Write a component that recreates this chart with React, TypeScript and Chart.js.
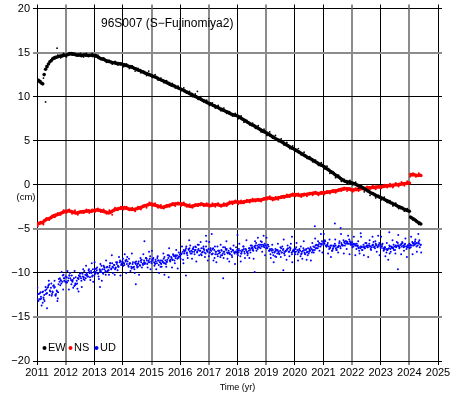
import React, { useEffect, useRef } from 'react';
import { Chart, registerables } from 'chart.js';

Chart.register(...registerables);

const TITLE = '96S007 (S\u2212Fujinomiya2)';
const X_TITLE = 'Time (yr)';
const Y_UNIT = '(cm)';
const X_MIN = 2011;
const X_MAX = 2025;
const Y_MIN = -20;
const Y_MAX = 20;
const SERIES_NAMES = ['EW', 'NS', 'UD'];

// main sampling: one value every 0.05 yr starting 2011.00
const T_START = 2011.0;
const T_STEP = 0.05;

const EW = [
  11.9, 11.85, 11.7, 11.55, 11.45, 12.5, 13.1, 13.4, 13.7, 13.95, 14.1, 14.3, 14.4, 14.45, 14.5, 14.55, 14.6, 14.6, 14.65, 14.7,
  14.7, 14.75, 14.8, 14.85, 14.9, 14.85, 14.8, 14.75, 14.7, 14.75, 14.7, 14.65, 14.7, 14.75, 14.7, 14.7, 14.65, 14.7, 14.7, 14.65,
  14.7, 14.65, 14.55, 14.45, 14.35, 14.3, 14.25, 14.2, 14.1, 14.05, 14.0, 13.95, 13.9, 13.85, 13.85, 13.8, 13.75, 13.75, 13.7, 13.7,
  13.65, 13.6, 13.55, 13.5, 13.45, 13.4, 13.35, 13.3, 13.2, 13.15, 13.05, 13.0, 12.95, 12.85, 12.8, 12.7, 12.65, 12.6, 12.5, 12.45,
  12.4, 12.3, 12.25, 12.2, 12.1, 12.0, 11.95, 11.85, 11.8, 11.7, 11.65, 11.55, 11.5, 11.4, 11.3, 11.25, 11.2, 11.1, 11.05, 10.95,
  10.9, 10.8, 10.75, 10.65, 10.55, 10.5, 10.4, 10.3, 10.25, 10.15, 10.05, 10.0, 9.9, 9.8, 9.75, 9.65, 9.55, 9.5, 9.4, 9.3,
  9.25, 9.2, 9.1, 9.0, 8.95, 8.85, 8.8, 8.7, 8.6, 8.55, 8.45, 8.4, 8.3, 8.25, 8.15, 8.05, 8.0, 7.95, 7.9, 7.85,
  7.8, 7.7, 7.6, 7.5, 7.4, 7.3, 7.2, 7.1, 7.0, 6.9, 6.8, 6.75, 6.65, 6.55, 6.45, 6.35, 6.25, 6.15, 6.05, 6.0,
  5.9, 5.8, 5.7, 5.6, 5.5, 5.4, 5.3, 5.2, 5.1, 5.05, 4.95, 4.85, 4.75, 4.65, 4.55, 4.45, 4.35, 4.25, 4.15, 4.1,
  4.0, 3.9, 3.8, 3.7, 3.6, 3.5, 3.4, 3.3, 3.2, 3.1, 3.0, 2.95, 2.85, 2.75, 2.65, 2.55, 2.45, 2.35, 2.25, 2.2,
  2.1, 2.0, 1.85, 1.75, 1.65, 1.5, 1.4, 1.3, 1.15, 1.05, 0.95, 0.85, 0.7, 0.6, 0.5, 0.4, 0.35, 0.3, 0.3, 0.25,
  0.2, 0.15, 0.1, 0.0, -0.05, -0.15, -0.2, -0.3, -0.4, -0.5, -0.6, -0.7, -0.8, -0.9, -1.0, -1.05, -1.15, -1.25, -1.3, -1.4,
  -1.45, -1.55, -1.6, -1.7, -1.8, -1.85, -1.95, -2.05, -2.1, -2.2, -2.25, -2.35, -2.45, -2.5, -2.6, -2.65, -2.75, -2.8, -2.9, -2.95,
  -3.0, -3.7, -3.8, -3.9, -4.0, -4.15, -4.25, -4.35, -4.45,
];

const NS = [
  -4.5, -4.4, -4.35, -4.3, -4.3, -4.1, -4.0, -3.9, -3.85, -3.8, -3.7, -3.6, -3.5, -3.45, -3.4, -3.35, -3.3, -3.2, -3.15, -3.05,
  -3.0, -3.0, -2.95, -3.0, -3.05, -3.1, -3.15, -3.2, -3.2, -3.15, -3.1, -3.1, -3.05, -3.05, -3.0, -3.0, -2.95, -3.0, -3.0, -2.95,
  -2.9, -2.9, -2.85, -2.9, -2.9, -2.95, -3.0, -3.05, -3.1, -3.15, -3.2, -3.15, -3.05, -2.95, -2.85, -2.8, -2.75, -2.7, -2.7, -2.65,
  -2.65, -2.6, -2.65, -2.7, -2.75, -2.75, -2.8, -2.8, -2.8, -2.75, -2.7, -2.65, -2.6, -2.55, -2.45, -2.4, -2.35, -2.3, -2.25, -2.2,
  -2.2, -2.25, -2.3, -2.35, -2.4, -2.45, -2.5, -2.55, -2.55, -2.5, -2.45, -2.4, -2.35, -2.3, -2.25, -2.2, -2.2, -2.15, -2.15, -2.15,
  -2.15, -2.2, -2.2, -2.25, -2.3, -2.35, -2.4, -2.45, -2.45, -2.4, -2.35, -2.3, -2.3, -2.25, -2.25, -2.2, -2.25, -2.3, -2.3, -2.3,
  -2.3, -2.35, -2.35, -2.3, -2.3, -2.25, -2.25, -2.3, -2.35, -2.35, -2.3, -2.3, -2.25, -2.2, -2.1, -2.05, -2.0, -2.0, -1.95, -1.95,
  -1.95, -1.95, -2.0, -2.0, -1.95, -1.9, -1.9, -1.85, -1.85, -1.8, -1.8, -1.8, -1.75, -1.75, -1.7, -1.75, -1.75, -1.7, -1.65, -1.6,
  -1.55, -1.5, -1.5, -1.55, -1.55, -1.6, -1.6, -1.55, -1.5, -1.45, -1.45, -1.4, -1.35, -1.35, -1.3, -1.3, -1.25, -1.2, -1.15, -1.15,
  -1.1, -1.1, -1.15, -1.2, -1.2, -1.15, -1.15, -1.1, -1.1, -1.05, -1.05, -1.0, -1.0, -0.95, -0.95, -0.95, -1.0, -1.0, -0.95, -0.95,
  -0.9, -0.9, -0.85, -0.85, -0.8, -0.8, -0.75, -0.75, -0.7, -0.7, -0.65, -0.6, -0.55, -0.5, -0.5, -0.45, -0.45, -0.45, -0.5, -0.55,
  -0.6, -0.6, -0.55, -0.55, -0.5, -0.5, -0.45, -0.45, -0.4, -0.4, -0.4, -0.35, -0.35, -0.35, -0.3, -0.3, -0.3, -0.25, -0.25, -0.25,
  -0.25, -0.2, -0.2, -0.15, -0.15, -0.1, -0.1, -0.1, -0.05, -0.05, 0.0, 0.0, 0.0, 0.05, 0.05, 0.1, 0.1, 0.15, 0.15, 0.2,
  0.2, 1.15, 1.1, 1.15, 1.1, 1.05, 1.05, 1.1, 1.05,
];

const UD = [
  -12.6, -13.2, -12.3, -12.9, -13.4, -12.5, -11.6, -12.3, -11.4, -12.0, -11.2, -12.2, -11.7, -12.6, -12.1, -11.3, -10.6, -11.2, -10.3, -10.9,
  -10.4, -11.1, -10.6, -10.0, -11.3, -10.8, -11.5, -10.5, -11.2, -10.7, -10.1, -10.9, -10.4, -9.8, -10.6, -10.2, -9.7, -10.5, -10.0, -9.6,
  -10.3, -9.9, -9.4, -10.4, -9.8, -9.2, -10.0, -9.6, -10.2, -9.3, -9.7, -8.9, -9.5, -10.0, -9.1, -9.4, -8.8, -9.3, -8.6, -9.0,
  -8.4, -9.1, -8.7, -8.2, -9.3, -8.9, -9.5, -8.8, -9.6, -9.0, -9.4, -8.7, -9.2, -8.5, -9.1, -8.8, -8.3, -9.0, -8.6, -8.1,
  -8.9, -8.4, -9.2, -8.7, -8.3, -9.1, -8.6, -9.3, -8.8, -8.2, -9.0, -8.5, -8.0, -8.7, -8.3, -7.9, -8.6, -8.1, -8.4, -7.7,
  -8.2, -7.8, -8.5, -7.6, -7.2, -8.0, -7.4, -6.9, -7.8, -7.3, -7.9, -7.1, -7.6, -6.8, -7.5, -8.0, -7.2, -7.7, -7.0, -7.6,
  -8.1, -7.4, -7.9, -7.2, -8.3, -7.6, -7.0, -7.8, -8.2, -7.5, -7.1, -7.9, -7.4, -8.4, -7.7, -7.2, -8.0, -7.5, -7.8, -7.1,
  -7.9, -7.3, -8.1, -7.6, -7.0, -7.8, -7.4, -8.0, -7.2, -7.7, -6.9, -7.5, -7.1, -6.6, -7.3, -6.8, -7.2, -6.5, -7.0, -6.7,
  -7.2, -6.8, -7.5, -7.9, -7.3, -8.0, -7.6, -8.2, -7.4, -7.8, -7.1, -7.7, -7.3, -8.0, -7.5, -6.9, -7.6, -7.2, -7.9, -7.4,
  -7.7, -7.1, -7.9, -7.4, -8.1, -7.6, -7.2, -7.8, -7.3, -8.0, -7.6, -7.1, -7.7, -7.0, -7.4, -6.8, -7.2, -6.6, -7.0, -6.4,
  -6.8, -6.3, -7.0, -6.6, -7.3, -6.9, -7.5, -7.0, -6.7, -7.4, -7.1, -6.6, -7.2, -6.8, -6.3, -6.9, -6.4, -6.7, -6.2, -6.8,
  -6.5, -7.0, -6.7, -7.3, -6.9, -7.5, -7.0, -7.4, -6.8, -7.2, -6.6, -7.1, -6.7, -7.3, -6.9, -6.5, -7.2, -6.8, -7.0, -6.6,
  -7.2, -6.8, -7.5, -7.1, -7.7, -7.3, -6.9, -7.6, -7.2, -6.8, -7.4, -7.0, -6.6, -7.2, -6.8, -6.5, -7.1, -6.7, -7.3, -6.9,
  -6.7, -7.1, -6.5, -6.9, -6.4, -7.0, -6.6, -6.3, -6.8,
];

// more UD readings, one every 0.1 yr starting 2011.025
const UD2_START = 2011.025;
const UD2_STEP = 0.1;
const UD2 = [
  -13.0, -12.2, -12.8, -11.9, -11.3, -12.4, -11.6, -12.9, -10.8, -10.2,
  -11.0, -10.3, -10.9, -11.4, -10.6, -10.0, -10.7, -10.3, -9.9, -10.4,
  -9.6, -10.1, -9.7, -9.2, -9.9, -9.4, -8.9, -9.6, -9.2, -8.7,
  -8.9, -8.5, -9.0, -9.4, -8.8, -9.3, -8.6, -8.9, -8.4, -8.8,
  -8.5, -9.0, -8.6, -8.9, -8.4, -8.8, -8.1, -8.5, -8.0, -8.3,
  -7.9, -7.4, -7.8, -7.2, -7.6, -7.0, -7.4, -7.9, -7.3, -7.4,
  -7.7, -7.3, -7.9, -7.5, -8.0, -7.6, -7.3, -7.8, -7.4, -7.6,
  -7.5, -7.8, -7.3, -7.6, -7.2, -7.4, -6.9, -7.1, -6.8, -6.9,
  -7.1, -7.4, -7.7, -7.3, -7.6, -7.2, -7.8, -7.4, -7.1, -7.6,
  -7.3, -7.6, -7.9, -7.4, -7.7, -7.3, -7.5, -6.9, -6.8, -6.7,
  -6.5, -6.9, -7.2, -7.3, -6.9, -7.0, -6.6, -6.5, -6.6, -6.4,
  -6.8, -6.9, -7.2, -7.1, -7.0, -6.9, -7.0, -6.8, -6.7, -6.9,
  -7.0, -7.3, -7.4, -7.0, -7.1, -6.9, -6.9, -6.7, -7.0, -7.1,
  -6.9, -6.6, -6.7, -6.5,
];

// wider-spread UD readings, every 0.05 yr starting 2011.0125
const UD3_START = 2011.0125;
const UD3 = [
  -11.7, -12.4, -13.0, -13.7, -12.1, -13.2, -12.4, -11.7, -10.9, -12.1, -12.6, -11.5, -10.9, -12.4, -13.2, -10.7, -11.4, -9.9, -11.9, -10.6,
  -11.1, -9.8, -11.9, -10.6, -10.3, -11.7, -9.8, -11.3, -11.8, -10.3, -10.4, -11.6, -9.6, -10.8, -9.2, -10.4, -9.6, -10.8, -8.9, -11.0,
  -8.8, -9.5, -10.0, -10.7, -9.0, -10.9, -10.1, -9.4, -8.6, -9.8, -10.2, -8.9, -8.0, -9.4, -10.2, -8.8, -9.7, -8.2, -10.3, -8.9,
  -9.2, -7.9, -10.0, -8.7, -8.4, -9.8, -7.8, -9.4, -10.0, -8.7, -9.0, -10.2, -8.3, -9.4, -7.9, -9.0, -8.3, -9.4, -7.6, -9.6,
  -7.5, -8.3, -8.9, -9.6, -8.1, -10.0, -9.3, -8.6, -7.8, -8.9, -9.3, -8.0, -7.2, -8.5, -9.4, -8.0, -8.9, -7.4, -9.5, -8.1,
  -8.4, -7.0, -8.9, -7.5, -7.0, -8.3, -6.3, -7.8, -8.4, -7.1, -7.4, -8.7, -6.8, -8.0, -6.5, -7.7, -7.0, -8.2, -6.4, -8.6,
  -6.5, -7.2, -7.9, -8.6, -7.0, -8.8, -8.1, -7.5, -6.8, -8.0, -8.3, -7.1, -6.4, -7.8, -8.7, -7.3, -8.2, -6.9, -9.0, -7.7,
  -8.0, -6.7, -8.7, -7.4, -7.0, -8.3, -6.3, -7.8, -8.3, -6.9, -7.1, -8.4, -6.4, -7.5, -6.0, -7.1, -6.4, -7.6, -5.8, -8.0,
  -6.0, -6.8, -7.5, -8.3, -6.8, -8.8, -8.1, -7.4, -6.7, -7.9, -8.2, -7.0, -6.2, -7.6, -8.5, -7.2, -8.1, -6.7, -8.8, -7.5,
  -7.9, -6.6, -8.6, -7.3, -7.0, -8.4, -6.4, -7.9, -8.5, -7.2, -7.4, -8.6, -6.6, -7.7, -6.1, -7.2, -6.4, -7.5, -5.6, -7.7,
  -5.6, -6.4, -7.0, -7.8, -6.2, -8.2, -7.5, -6.9, -6.2, -7.4, -7.7, -6.4, -5.6, -6.9, -7.8, -6.4, -7.3, -5.8, -7.9, -6.6,
  -7.1, -5.9, -8.0, -6.7, -6.4, -7.8, -5.9, -7.4, -8.0, -6.6, -6.9, -8.2, -6.3, -7.4, -5.9, -7.1, -6.4, -7.6, -5.8, -8.0,
  -5.9, -6.7, -7.4, -8.1, -6.6, -8.5, -7.8, -7.0, -6.3, -7.4, -7.8, -6.5, -5.7, -7.1, -7.9, -6.6, -7.5, -6.1, -8.2, -6.9,
  -7.2, -5.9, -7.9, -6.6, -6.2, -7.6, -5.6, -7.1, -7.7,
];

// UD readings near the middle of the band, every 0.05 yr starting 2011.0375
const UD4_START = 2011.0375;
const UD4 = [
  -12.4, -13.0, -12.7, -12.2, -13.0, -12.0, -12.3, -11.6, -12.5, -11.7, -12.1, -11.4, -12.5, -12.0, -12.2, -11.0, -10.9, -11.0, -10.6, -11.0,
  -10.5, -10.9, -10.3, -10.8, -11.0, -10.6, -11.2, -10.9, -10.6, -10.4, -10.6, -10.1, -10.5, -10.2, -10.0, -10.4, -10.0, -9.8, -10.3, -9.9,
  -10.1, -9.7, -10.0, -9.6, -9.9, -9.6, -9.3, -9.8, -9.4, -9.7, -9.2, -9.6, -9.3, -9.1, -9.5, -9.0, -9.3, -8.8, -9.1, -8.7,
  -8.9, -8.6, -9.0, -9.2, -8.9, -9.3, -9.0, -9.3, -8.9, -9.2, -8.9, -9.1, -8.8, -9.0, -8.6, -8.9, -8.6, -8.8, -8.4, -8.7,
  -8.6, -8.8, -8.5, -8.9, -8.6, -8.8, -9.0, -8.7, -8.9, -8.6, -8.7, -8.3, -8.6, -8.2, -8.5, -8.1, -8.3, -8.0, -8.2, -7.9,
  -7.9, -7.6, -7.8, -7.4, -7.7, -7.3, -7.6, -7.5, -7.3, -7.6, -7.4, -7.7, -7.3, -7.5, -7.2, -7.6, -7.4, -7.8, -7.5, -7.3,
  -7.7, -7.5, -7.8, -7.4, -7.6, -7.9, -7.5, -7.7, -7.4, -7.8, -7.6, -7.3, -7.7, -7.5, -7.9, -7.6, -7.4, -7.7, -7.6, -7.4,
  -7.7, -7.5, -7.8, -7.4, -7.6, -7.3, -7.7, -7.5, -7.4, -7.2, -7.3, -7.0, -7.2, -6.9, -7.1, -6.8, -7.0, -6.8, -7.1, -6.9,
  -7.2, -7.0, -7.3, -7.5, -7.4, -7.7, -7.5, -7.8, -7.6, -7.5, -7.7, -7.4, -7.6, -7.5, -7.3, -7.6, -7.4, -7.7, -7.5, -7.3,
  -7.6, -7.4, -7.7, -7.5, -7.8, -7.5, -7.7, -7.4, -7.6, -7.8, -7.5, -7.3, -7.4, -7.1, -7.2, -6.9, -7.0, -6.7, -6.8, -6.6,
  -6.7, -6.9, -6.8, -7.0, -7.1, -6.9, -7.2, -7.0, -7.2, -7.1, -6.9, -7.0, -6.8, -6.9, -6.6, -6.7, -6.5, -6.7, -6.6, -6.8,
  -6.7, -6.8, -6.9, -7.0, -7.1, -7.2, -7.0, -7.1, -7.2, -7.0, -7.1, -6.9, -7.0, -7.1, -6.8, -7.0, -6.9, -7.1, -6.8, -7.0,
  -7.0, -7.2, -7.1, -7.3, -7.4, -7.2, -7.3, -7.1, -7.2, -7.0, -7.1, -6.9, -7.0, -6.8, -7.0, -6.9, -6.8, -7.0, -6.9, -7.1,
  -6.8, -6.9, -6.7, -6.8, -6.6, -6.9, -6.7, -6.8,
];

// scatter around the EW and NS bands, every 0.1 yr starting 2011.025
const FUZZ_START = 2011.025;
const FUZZ_STEP = 0.1;
const EW2 = [
  11.7, 11.8, 12.1, 13.5, 13.7, 14.3, 14.3, 14.7, 14.4, 14.9,
  14.5, 15.0, 14.7, 14.9, 14.6, 14.9, 14.5, 14.9, 14.6, 14.9,
  14.5, 14.7, 14.2, 14.4, 13.9, 14.1, 13.7, 14.0, 13.6, 13.8,
  13.4, 13.7, 13.2, 13.5, 12.9, 13.2, 12.7, 12.9, 12.4, 12.6,
  12.2, 12.5, 11.9, 12.1, 11.6, 11.8, 11.3, 11.5, 11.0, 11.2,
  10.7, 11.0, 10.4, 10.6, 10.0, 10.3, 9.7, 10.0, 9.4, 9.6,
  9.0, 9.3, 8.7, 9.0, 8.4, 8.7, 8.1, 8.3, 7.8, 8.1,
  7.5, 7.8, 7.1, 7.3, 6.8, 7.0, 6.4, 6.7, 6.0, 6.3,
  5.6, 6.0, 5.3, 5.6, 4.9, 5.2, 4.5, 4.8, 4.1, 4.4,
  3.8, 4.1, 3.4, 3.7, 3.0, 3.2, 2.6, 2.8, 2.2, 2.5,
  1.8, 2.1, 1.3, 1.5, 0.8, 1.1, 0.4, 0.6, 0.2, 0.5,
  0.0, 0.3, -0.4, -0.2, -0.8, -0.6, -1.2, -0.9, -1.5, -1.2,
  -1.7, -1.4, -2.0, -1.8, -2.4, -2.1, -2.7, -2.5, -3.0, -2.7,
  -3.6, -4.0, -4.0, -4.5,
];
const NS2 = [
  -4.7, -4.2, -4.5, -3.8, -4.0, -3.5, -3.7, -3.2, -3.4, -2.9,
  -3.2, -2.8, -3.3, -2.9, -3.4, -3.0, -3.2, -2.8, -3.2, -2.8,
  -3.1, -2.7, -3.1, -2.8, -3.3, -2.9, -3.4, -2.6, -2.9, -2.5,
  -2.8, -2.5, -2.9, -2.6, -3.0, -2.5, -2.8, -2.4, -2.6, -2.0,
  -2.4, -2.1, -2.6, -2.3, -2.7, -2.3, -2.5, -2.1, -2.4, -2.0,
  -2.4, -2.0, -2.5, -2.2, -2.6, -2.2, -2.4, -2.1, -2.4, -2.1,
  -2.5, -2.1, -2.5, -2.1, -2.5, -2.1, -2.4, -1.9, -2.2, -1.8,
  -2.2, -1.8, -2.1, -1.7, -2.0, -1.6, -1.9, -1.6, -1.9, -1.5,
  -1.7, -1.3, -1.8, -1.4, -1.7, -1.3, -1.5, -1.1, -1.4, -1.0,
  -1.3, -1.0, -1.4, -1.0, -1.3, -0.9, -1.2, -0.8, -1.2, -0.8,
  -1.1, -0.7, -1.0, -0.6, -0.9, -0.5, -0.7, -0.3, -0.7, -0.4,
  -0.8, -0.4, -0.7, -0.3, -0.6, -0.2, -0.5, -0.1, -0.5, -0.1,
  -0.4, 0.0, -0.3, 0.1, -0.3, 0.2, -0.2, 0.3, -0.1, 0.4,
  0.9, 1.3, 0.9, 1.3,
];

// isolated readings
const UD_OUT_T = [2011.35, 2012.45, 2013.2, 2014.45, 2014.75, 2015.45, 2015.6, 2016.2, 2016.9, 2017.1, 2017.5, 2018.0, 2018.6, 2019.6, 2019.9, 2020.7, 2021.4, 2021.6, 2022.3, 2023.3, 2023.6];
const UD_OUT_V = [-14.0, -12.1, -11.6, -11.3, -6.4, -10.2, -10.5, -10.3, -5.8, -5.6, -10.6, -5.7, -9.9, -9.7, -5.9, -4.7, -4.4, -4.9, -5.5, -5.4, -9.6];
const EW_OUT_T = [2011.3, 2011.7, 2014.9, 2016.6];
const EW_OUT_V = [9.4, 15.5, 12.9, 10.6];

// grid lines that appear as grey, wider lines in the reference
const GRAY_X = [2012, 2015, 2017, 2019, 2022, 2024];
const GRAY_Y = [15, -5, -15];

const FONT = "'Liberation Sans', Arial, Helvetica, sans-serif";
const COLORS = ['#000000', '#ff0000', '#0000ff'];

const regular = (start: number, step: number, vals: number[]) =>
  vals.map((v, i) => ({ x: start + i * step, y: v }));
const paired = (ts: number[], vs: number[]) => ts.map((t, i) => ({ x: t, y: vs[i] }));

const fmtMinus = (v: number) => (v < 0 ? '\u2212' + Math.abs(v) : String(v));

const pts = (label: string, data: any[], color: string, r: number, order: number) => ({
  label,
  data,
  backgroundColor: color,
  pointBackgroundColor: color,
  pointRadius: r,
  pointBorderWidth: 0,
  order,
});

export default function App() {
  const ref = useRef<HTMLCanvasElement | null>(null);

  useEffect(() => {
    if (!ref.current) return;
    document.body.style.margin = '0';

    const gridColorX = (v: number) => (GRAY_X.includes(v) ? '#8c8c8c' : '#000000');
    const gridWidthX = (v: number) => (GRAY_X.includes(v) ? 2 : 1);
    const gridColorY = (v: number) => (GRAY_Y.includes(v) ? '#8c8c8c' : '#000000');
    const gridWidthY = (v: number) => (GRAY_Y.includes(v) ? 2 : 1);

    const decor = {
      id: 'decor',
      afterDraw(chart: any) {
        const ctx = chart.ctx;
        const a = chart.chartArea;
        const xs = chart.scales.x;
        const ys = chart.scales.y;
        ctx.save();
        xs.ticks.forEach((t: any) => {
          const p = xs.getPixelForValue(t.value);
          const w = gridWidthX(t.value);
          const px = w === 1 ? Math.round(p - 0.5) + 0.5 : Math.round(p);
          ctx.strokeStyle = gridColorX(t.value);
          ctx.lineWidth = w;
          ctx.beginPath();
          ctx.moveTo(px, a.top - 4);
          ctx.lineTo(px, a.top);
          ctx.stroke();
        });
        ys.ticks.forEach((t: any) => {
          const p = ys.getPixelForValue(t.value);
          const w = gridWidthY(t.value);
          const py = w === 1 ? Math.round(p - 0.5) + 0.5 : Math.round(p);
          ctx.strokeStyle = gridColorY(t.value);
          ctx.lineWidth = w;
          ctx.beginPath();
          ctx.moveTo(a.right, py);
          ctx.lineTo(a.right + 4, py);
          ctx.stroke();
        });
        ctx.fillStyle = '#000';
        ctx.font = `12px ${FONT}`;
        ctx.textAlign = 'left';
        ctx.textBaseline = 'middle';
        ctx.fillText(TITLE, 101, 24);
        ctx.font = `9.5px ${FONT}`;
        ctx.textAlign = 'center';
        ctx.fillText(Y_UNIT, 26, ys.getPixelForValue(0) + 12.5);
        ctx.font = `9px ${FONT}`;
        ctx.fillText(X_TITLE, (a.left + a.right) / 2, 388);
        ctx.font = `11px ${FONT}`;
        ctx.textAlign = 'left';
        const ly = a.bottom - 13;
        const lx = [44.5, 70.5, 96.5];
        SERIES_NAMES.forEach((name, i) => {
          ctx.fillStyle = COLORS[i];
          ctx.beginPath();
          ctx.arc(lx[i], ly, 2, 0, Math.PI * 2);
          ctx.fill();
          ctx.fillStyle = '#000';
          ctx.fillText(name, lx[i] + 3.5, ly);
        });
        ctx.restore();
      },
    };

    const chart = new Chart(ref.current, {
      type: 'scatter',
      data: {
        datasets: [
          pts('EW', regular(T_START, T_STEP, EW), COLORS[0], 1.8, 0),
          pts('EW scatter', [...regular(FUZZ_START, FUZZ_STEP, EW2), ...paired(EW_OUT_T, EW_OUT_V)], COLORS[0], 0.9, 1),
          pts('NS', regular(T_START, T_STEP, NS), COLORS[1], 1.8, 2),
          pts('NS scatter', regular(FUZZ_START, FUZZ_STEP, NS2), COLORS[1], 1.0, 3),
          pts(
            'UD',
            [
              ...regular(T_START, T_STEP, UD),
              ...regular(UD2_START, UD2_STEP, UD2),
              ...regular(UD3_START, T_STEP, UD3),
              ...regular(UD4_START, T_STEP, UD4),
              ...paired(UD_OUT_T, UD_OUT_V),
            ],
            COLORS[2],
            1.0,
            4,
          ),
        ],
      },
      options: {
        responsive: false,
        animation: false,
        devicePixelRatio: 1,
        layout: { padding: { top: 6, right: 27, left: 0, bottom: 0 } },
        plugins: { legend: { display: false }, tooltip: { enabled: false }, title: { display: false } },
        scales: {
          x: {
            type: 'linear',
            min: X_MIN,
            max: X_MAX,
            afterFit: (s: any) => { s.height = 35; },
            border: { display: false },
            grid: {
              color: (c: any) => gridColorX(c.tick?.value),
              lineWidth: (c: any) => gridWidthX(c.tick?.value),
              tickLength: 4,
            },
            ticks: {
              stepSize: 1,
              autoSkip: false,
              maxRotation: 0,
              padding: 2,
              color: '#000',
              font: { family: FONT, size: 11, lineHeight: 1 },
              callback: (v: any) => String(v),
            },
          },
          y: {
            type: 'linear',
            min: Y_MIN,
            max: Y_MAX,
            afterFit: (s: any) => { s.width = 37; },
            border: { display: false },
            grid: {
              color: (c: any) => gridColorY(c.tick?.value),
              lineWidth: (c: any) => gridWidthY(c.tick?.value),
              tickLength: 4,
            },
            ticks: {
              stepSize: 5,
              padding: 3,
              color: '#000',
              font: { family: FONT, size: 11, lineHeight: 1 },
              callback: (v: any) => fmtMinus(Number(v)),
            },
          },
        },
      },
      plugins: [decor],
    });

    return () => chart.destroy();
  }, []);

  return (
    <canvas
      ref={ref}
      width={465}
      height={396}
      style={{ position: 'absolute', left: 0, top: 0, width: 465, height: 396 }}
    />
  );
}
